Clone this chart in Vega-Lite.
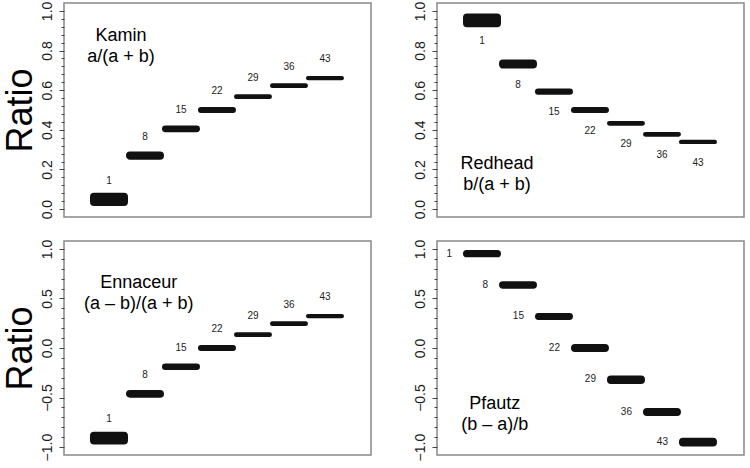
{
  "$schema": "https://vega.github.io/schema/vega-lite/v6.json",
  "background": "white",
  "padding": {"left": 1, "top": 0, "right": 5, "bottom": 5},
  "config": {
    "font": "Liberation Sans",
    "view": {"stroke": "#888", "strokeWidth": 1.5},
    "axis": {
      "domain": false,
      "grid": false,
      "labelAngle": -90,
      "labelAlign": "center",
      "labelBaseline": "bottom",
      "labelFontSize": 14,
      "labelPadding": 5,
      "labelColor": "#1a1a1a",
      "labelFont": "Liberation Sans",
      "labelOverlap": false,
      "labelFlush": false,
      "labelBound": false,
      "tickColor": "#444",
      "tickWidth": 1,
      "tickSize": 5,
      "titleFont": "Liberation Sans",
      "titleFontSize": 36,
      "titleFontWeight": "normal",
      "titleColor": "#000",
      "titlePadding": 1
    }
  },
  "data": {"values": [
    {"panel": "Kamin", "group": 1, "start": 1, "end": 8, "lo": 0.02, "hi": 0.077, "center": 0.045},
    {"panel": "Kamin", "group": 8, "start": 8, "end": 15, "lo": 0.254, "hi": 0.286, "center": 0.27},
    {"panel": "Kamin", "group": 15, "start": 15, "end": 22, "lo": 0.393, "hi": 0.417, "center": 0.405},
    {"panel": "Kamin", "group": 22, "start": 22, "end": 29, "lo": 0.49, "hi": 0.51, "center": 0.5},
    {"panel": "Kamin", "group": 29, "start": 29, "end": 36, "lo": 0.56, "hi": 0.574, "center": 0.567},
    {"panel": "Kamin", "group": 36, "start": 36, "end": 43, "lo": 0.616, "hi": 0.63, "center": 0.623},
    {"panel": "Kamin", "group": 43, "start": 43, "end": 50, "lo": 0.655, "hi": 0.667, "center": 0.661},
    {"panel": "Redhead", "group": 1, "start": 1, "end": 8, "lo": 0.923, "hi": 0.982, "center": 0.955},
    {"panel": "Redhead", "group": 8, "start": 8, "end": 15, "lo": 0.714, "hi": 0.75, "center": 0.73},
    {"panel": "Redhead", "group": 15, "start": 15, "end": 22, "lo": 0.582, "hi": 0.604, "center": 0.595},
    {"panel": "Redhead", "group": 22, "start": 22, "end": 29, "lo": 0.49, "hi": 0.51, "center": 0.5},
    {"panel": "Redhead", "group": 29, "start": 29, "end": 36, "lo": 0.426, "hi": 0.44, "center": 0.433},
    {"panel": "Redhead", "group": 36, "start": 36, "end": 43, "lo": 0.37, "hi": 0.384, "center": 0.377},
    {"panel": "Redhead", "group": 43, "start": 43, "end": 50, "lo": 0.333, "hi": 0.345, "center": 0.339},
    {"panel": "Ennaceur", "group": 1, "start": 1, "end": 8, "lo": -0.965, "hi": -0.855, "center": -0.91},
    {"panel": "Ennaceur", "group": 8, "start": 8, "end": 15, "lo": -0.492, "hi": -0.435, "center": -0.46},
    {"panel": "Ennaceur", "group": 15, "start": 15, "end": 22, "lo": -0.213, "hi": -0.167, "center": -0.19},
    {"panel": "Ennaceur", "group": 22, "start": 22, "end": 29, "lo": -0.02, "hi": 0.02, "center": 0.0},
    {"panel": "Ennaceur", "group": 29, "start": 29, "end": 36, "lo": 0.12, "hi": 0.148, "center": 0.134},
    {"panel": "Ennaceur", "group": 36, "start": 36, "end": 43, "lo": 0.231, "hi": 0.259, "center": 0.245},
    {"panel": "Ennaceur", "group": 43, "start": 43, "end": 50, "lo": 0.31, "hi": 0.334, "center": 0.322},
    {"panel": "Pfautz", "group": 1, "start": 1, "end": 8, "lo": 0.925, "hi": 0.98, "center": 0.953},
    {"panel": "Pfautz", "group": 8, "start": 8, "end": 15, "lo": 0.607, "hi": 0.663, "center": 0.635},
    {"panel": "Pfautz", "group": 15, "start": 15, "end": 22, "lo": 0.293, "hi": 0.343, "center": 0.318},
    {"panel": "Pfautz", "group": 22, "start": 22, "end": 29, "lo": -0.03, "hi": 0.03, "center": 0.0},
    {"panel": "Pfautz", "group": 29, "start": 29, "end": 36, "lo": -0.353, "hi": -0.287, "center": -0.31},
    {"panel": "Pfautz", "group": 36, "start": 36, "end": 43, "lo": -0.675, "hi": -0.615, "center": -0.645},
    {"panel": "Pfautz", "group": 43, "start": 43, "end": 50, "lo": -0.985, "hi": -0.915, "center": -0.95}
  ]},
  "columns": 2,
  "spacing": {"row": 24, "column": 66},
  "bounds": "flush",
  "concat": [
    {
      "width": 307, "height": 214,
      "resolve": {"axis": {"y": "independent"}},
      "layer": [
        {
          "transform": [{"filter": "datum.panel == 'Kamin'"}],
          "mark": {"type": "rect", "cornerRadius": 3, "color": "#111", "stroke": "#111", "strokeWidth": 2},
          "encoding": {
            "x": {"field": "start", "type": "quantitative", "scale": {"domain": [-4.25, 55.45], "nice": false, "zero": false}, "axis": null},
            "x2": {"field": "end"},
            "y": {"field": "lo", "type": "quantitative", "scale": {"domain": [-0.04, 1.04], "nice": false, "zero": false},
              "axis": {"title": "Ratio", "orient": "left", "values": [0, 0.2, 0.4, 0.6, 0.8, 1.0], "format": ".1f"}},
            "y2": {"field": "hi"}
          }
        },
        {
          "transform": [{"filter": "datum.panel == 'Kamin'"}],
          "mark": {"type": "text", "dx": 18, "dy": -19, "fontSize": 10, "color": "#222", "align": "center", "baseline": "middle"},
          "encoding": {
            "x": {"field": "start", "type": "quantitative"},
            "y": {"field": "center", "type": "quantitative",
              "axis": {"title": null, "orient": "left", "labels": false, "tickSize": 3,
                "values": [0.04, 0.08, 0.12, 0.16, 0.24, 0.28, 0.32, 0.36, 0.44, 0.48, 0.52, 0.56, 0.64, 0.68, 0.72, 0.76, 0.84, 0.88, 0.92, 0.96]}},
            "text": {"field": "group"}
          }
        },
        {
          "data": {"values": [{}]},
          "mark": {"type": "text", "fontSize": 18, "lineHeight": 21, "align": "center", "baseline": "alphabetic", "color": "#000"},
          "encoding": {
            "x": {"datum": 6.84, "type": "quantitative"},
            "y": {"datum": 0.85, "type": "quantitative", "axis": null},
            "text": {"value": ["Kamin", "a/(a + b)"]}
          }
        }
      ]
    },
    {
      "width": 307, "height": 214,
      "resolve": {"axis": {"y": "independent"}},
      "layer": [
        {
          "transform": [{"filter": "datum.panel == 'Redhead'"}],
          "mark": {"type": "rect", "cornerRadius": 3, "color": "#111", "stroke": "#111", "strokeWidth": 2},
          "encoding": {
            "x": {"field": "start", "type": "quantitative", "scale": {"domain": [-4.25, 55.45], "nice": false, "zero": false}, "axis": null},
            "x2": {"field": "end"},
            "y": {"field": "lo", "type": "quantitative", "scale": {"domain": [-0.04, 1.04], "nice": false, "zero": false},
              "axis": {"title": null, "orient": "left", "values": [0, 0.2, 0.4, 0.6, 0.8, 1.0], "format": ".1f"}},
            "y2": {"field": "hi"}
          }
        },
        {
          "transform": [{"filter": "datum.panel == 'Redhead'"}],
          "mark": {"type": "text", "dx": 18, "dy": 21, "fontSize": 10, "color": "#222", "align": "center", "baseline": "middle"},
          "encoding": {
            "x": {"field": "start", "type": "quantitative"},
            "y": {"field": "center", "type": "quantitative",
              "axis": {"title": null, "orient": "left", "labels": false, "tickSize": 3,
                "values": [0.04, 0.08, 0.12, 0.16, 0.24, 0.28, 0.32, 0.36, 0.44, 0.48, 0.52, 0.56, 0.64, 0.68, 0.72, 0.76, 0.84, 0.88, 0.92, 0.96]}},
            "text": {"field": "group"}
          }
        },
        {
          "data": {"values": [{}]},
          "mark": {"type": "text", "fontSize": 18, "lineHeight": 21, "align": "center", "baseline": "alphabetic", "color": "#000"},
          "encoding": {
            "x": {"datum": 7.4, "type": "quantitative"},
            "y": {"datum": 0.2, "type": "quantitative", "axis": null},
            "text": {"value": ["Redhead", "b/(a + b)"]}
          }
        }
      ]
    },
    {
      "width": 307, "height": 214,
      "resolve": {"axis": {"y": "independent"}},
      "layer": [
        {
          "transform": [{"filter": "datum.panel == 'Ennaceur'"}],
          "mark": {"type": "rect", "cornerRadius": 3, "color": "#111", "stroke": "#111", "strokeWidth": 2},
          "encoding": {
            "x": {"field": "start", "type": "quantitative", "scale": {"domain": [-4.25, 55.45], "nice": false, "zero": false}, "axis": null},
            "x2": {"field": "end"},
            "y": {"field": "lo", "type": "quantitative", "scale": {"domain": [-1.08, 1.08], "nice": false, "zero": false},
              "axis": {"title": "Ratio", "orient": "left", "values": [-1.0, -0.5, 0, 0.5, 1.0], "format": ".1f"}},
            "y2": {"field": "hi"}
          }
        },
        {
          "transform": [{"filter": "datum.panel == 'Ennaceur'"}],
          "mark": {"type": "text", "dx": 18, "dy": -19, "fontSize": 10, "color": "#222", "align": "center", "baseline": "middle"},
          "encoding": {
            "x": {"field": "start", "type": "quantitative"},
            "y": {"field": "center", "type": "quantitative",
              "axis": {"title": null, "orient": "left", "labels": false, "tickSize": 3,
                "values": [-0.9, -0.8, -0.7, -0.6, -0.4, -0.3, -0.2, -0.1, 0.1, 0.2, 0.3, 0.4, 0.6, 0.7, 0.8, 0.9]}},
            "text": {"field": "group"}
          }
        },
        {
          "data": {"values": [{}]},
          "mark": {"type": "text", "fontSize": 18, "lineHeight": 21, "align": "center", "baseline": "alphabetic", "color": "#000"},
          "encoding": {
            "x": {"datum": 10.3, "type": "quantitative"},
            "y": {"datum": 0.61, "type": "quantitative", "axis": null},
            "text": {"value": ["Ennaceur", "(a – b)/(a + b)"]}
          }
        }
      ]
    },
    {
      "width": 307, "height": 214,
      "resolve": {"axis": {"y": "independent"}},
      "layer": [
        {
          "transform": [{"filter": "datum.panel == 'Pfautz'"}],
          "mark": {"type": "rect", "cornerRadius": 3, "color": "#111", "stroke": "#111", "strokeWidth": 2},
          "encoding": {
            "x": {"field": "start", "type": "quantitative", "scale": {"domain": [-4.25, 55.45], "nice": false, "zero": false}, "axis": null},
            "x2": {"field": "end"},
            "y": {"field": "lo", "type": "quantitative", "scale": {"domain": [-1.08, 1.08], "nice": false, "zero": false},
              "axis": {"title": null, "orient": "left", "values": [-1.0, -0.5, 0, 0.5, 1.0], "format": ".1f"}},
            "y2": {"field": "hi"}
          }
        },
        {
          "transform": [{"filter": "datum.panel == 'Pfautz'"}],
          "mark": {"type": "text", "dx": -12, "fontSize": 10, "color": "#222", "align": "right", "baseline": "middle"},
          "encoding": {
            "x": {"field": "start", "type": "quantitative"},
            "y": {"field": "center", "type": "quantitative",
              "axis": {"title": null, "orient": "left", "labels": false, "tickSize": 3,
                "values": [-0.9, -0.8, -0.7, -0.6, -0.4, -0.3, -0.2, -0.1, 0.1, 0.2, 0.3, 0.4, 0.6, 0.7, 0.8, 0.9]}},
            "text": {"field": "group"}
          }
        },
        {
          "data": {"values": [{}]},
          "mark": {"type": "text", "fontSize": 18, "lineHeight": 21, "align": "center", "baseline": "alphabetic", "color": "#000"},
          "encoding": {
            "x": {"datum": 7.0, "type": "quantitative"},
            "y": {"datum": -0.62, "type": "quantitative", "axis": null},
            "text": {"value": ["Pfautz", "(b – a)/b"]}
          }
        }
      ]
    }
  ]
}
